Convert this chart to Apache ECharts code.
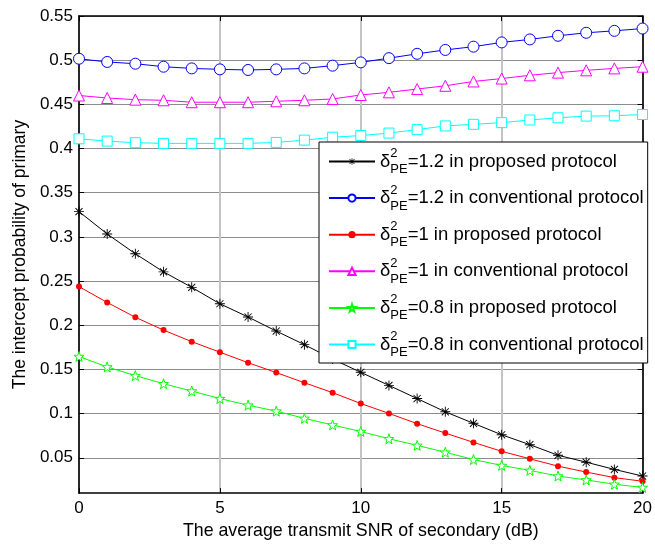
<!DOCTYPE html>
<html>
<head>
<meta charset="utf-8">
<script src="https://cdn.jsdelivr.net/npm/echarts@6/dist/echarts.min.js"></script>
<style>
html,body{margin:0;padding:0;background:#fff;}
#chart{width:655px;height:545px;}
</style>
</head>
<body>
<div id="chart"></div>
<script>
// ---- data ----
var snr = [0,1,2,3,4,5,6,7,8,9,10,11,12,13,14,15,16,17,18,19,20];
var proposed12 = [0.3286,0.3033,0.2809,0.2604,0.2429,0.2243,0.2093,0.1934,0.1780,0.1617,0.1467,0.1319,0.1170,0.1020,0.0890,0.0760,0.0648,0.0528,0.0450,0.0368,0.0293];
var conventional12 = [0.5016,0.4980,0.4960,0.4926,0.4907,0.4896,0.4889,0.4896,0.4907,0.4938,0.4975,0.5023,0.5072,0.5116,0.5153,0.5201,0.5235,0.5276,0.5310,0.5332,0.5358];
var proposed10 = [0.2437,0.2258,0.2090,0.1945,0.1814,0.1695,0.1576,0.1464,0.1349,0.1237,0.1114,0.1002,0.0886,0.0779,0.0674,0.0573,0.0488,0.0405,0.0338,0.0275,0.0234];
var conventional10 = [0.4600,0.4572,0.4553,0.4546,0.4524,0.4524,0.4524,0.4535,0.4546,0.4561,0.4606,0.4636,0.4673,0.4710,0.4759,0.4792,0.4829,0.4859,0.4885,0.4907,0.4926];
var proposed08 = [0.1646,0.1528,0.1430,0.1338,0.1255,0.1170,0.1095,0.1028,0.0946,0.0871,0.0797,0.0715,0.0640,0.0562,0.0480,0.0413,0.0357,0.0293,0.0249,0.0200,0.0164];
var conventional08 = [0.4110,0.4084,0.4066,0.4058,0.4058,0.4058,0.4058,0.4069,0.4095,0.4128,0.4147,0.4175,0.4214,0.4256,0.4274,0.4293,0.4323,0.4348,0.4367,0.4371,0.4385];
var seriesValues = [proposed12, conventional12, proposed10, conventional10, proposed08, conventional08];
var deltaLabels = ['1.2','1.2','1','1','0.8','0.8'];
var protocolLabels = ['proposed','conventional','proposed','conventional','proposed','conventional'];
var xTicks = [0,5,10,15,20];
var yTicks = [0.05,0.1,0.15,0.2,0.25,0.3,0.35,0.4,0.45,0.5,0.55];
var xTitle = 'The average transmit SNR of secondary (dB)';
var yTitle = 'The intercept probability of primary';

// ---- styles ----
var FONT = '"Liberation Sans", Arial, sans-serif';
var colors = ['#000000','#0000ff','#ff0000','#ff00ff','#00ff00','#00ffff'];
var asterisk = 'path://M-10,-0.9L10,-0.9L10,0.9L-10,0.9Z M-0.9,-10L0.9,-10L0.9,10L-0.9,10Z M-7.7,-6.4L-6.4,-7.7L7.7,6.4L6.4,7.7Z M6.4,-7.7L7.7,-6.4L-6.4,7.7L-7.7,6.4Z';
var pentagram = 'path://M0,-10L2.35,-3.24L9.51,-3.09L3.8,1.24L5.88,8.09L0,4L-5.88,8.09L-3.8,1.24L-9.51,-3.09L-2.35,-3.24Z';
var symbols = [asterisk,'circle','circle','triangle',pentagram,'rect'];
var symbolSizes = [10,11,6,11,10,10];
var hollow = [false,true,false,true,true,true];

var names = [];
for (var i = 0; i < 6; i++) {
  names.push('δ2PE=' + deltaLabels[i] + ' in ' + protocolLabels[i] + ' protocol');
}

var series = [];
for (var k = 0; k < 6; k++) {
  var pts = [];
  for (var j = 0; j < snr.length; j++) pts.push([snr[j], seriesValues[k][j]]);
  var itemStyle = hollow[k]
    ? {color: '#ffffff', borderColor: colors[k], borderWidth: 1}
    : {color: colors[k], borderWidth: 0};
  series.push({
    name: names[k],
    type: 'line',
    data: pts,
    symbol: symbols[k],
    symbolSize: symbolSizes[k],
    showAllSymbol: true,
    lineStyle: {color: colors[k], width: 1, type: 'solid'},
    itemStyle: itemStyle,
    emphasis: {disabled: true},
    z: 3
  });
}

var chart = echarts.init(document.getElementById('chart'), null, {renderer: 'canvas'});
var option = {
  animation: false,
  backgroundColor: '#ffffff',
  grid: {left: 79, right: 9, top: 16, bottom: 46, containLabel: false},
  legend: {
    orient: 'vertical',
    left: 319,
    top: 142,
    padding: [5, 4, 4, 9],
    itemGap: 7.6,
    itemWidth: 46,
    itemHeight: 9,
    backgroundColor: '#ffffff',
    borderColor: '#000000',
    borderWidth: 1,
    borderRadius: 0,
    selectedMode: false,
    data: names,
    formatter: function (name) {
      var idx = names.indexOf(name);
      return '{d|δ}{s|2}{p|PE}{t|=' + deltaLabels[idx] + ' in ' + protocolLabels[idx] + ' protocol}';
    },
    textStyle: {
      color: '#000', fontFamily: FONT, fontSize: 18.5, lineHeight: 29,
      rich: {
        d: {fontFamily: FONT, fontSize: 18.5, color: '#000', lineHeight: 29},
        s: {fontFamily: FONT, fontSize: 13, color: '#000', width: 0, lineHeight: 14, verticalAlign: 'top'},
        p: {fontFamily: FONT, fontSize: 13, color: '#000', lineHeight: 14, verticalAlign: 'bottom'},
        t: {fontFamily: FONT, fontSize: 18.5, color: '#000', lineHeight: 29}
      }
    }
  },
  xAxis: [{
    type: 'value', min: 0, max: 20, interval: 5, position: 'bottom',
    name: xTitle, nameLocation: 'middle', nameGap: 25,
    nameTextStyle: {fontFamily: FONT, fontSize: 17.8, color: '#000'},
    axisLine: {show: true, onZero: false, lineStyle: {color: '#000', width: 1.6}},
    axisTick: {show: true, inside: true, length: 5, lineStyle: {color: '#000'}},
    axisLabel: {fontFamily: FONT, fontSize: 17, color: '#000', margin: 7},
    splitLine: {show: true, lineStyle: {color: '#c4c4c4', width: 2}}
  }, {
    type: 'value', min: 0, max: 20, interval: 5, position: 'top',
    axisLine: {show: true, onZero: false, lineStyle: {color: '#000', width: 1.6}},
    axisTick: {show: true, inside: true, length: 5, lineStyle: {color: '#000'}},
    axisLabel: {show: false},
    splitLine: {show: false}
  }],
  yAxis: [{
    type: 'value', min: 0.01, max: 0.55, position: 'left',
    name: yTitle, nameLocation: 'middle', nameGap: 48, nameRotate: 90,
    nameTextStyle: {fontFamily: FONT, fontSize: 17.5, color: '#000'},
    axisLine: {show: true, onZero: false, lineStyle: {color: '#000', width: 1.6}},
    axisTick: {show: true, inside: true, length: 5, lineStyle: {color: '#000'}, customValues: yTicks},
    axisLabel: {fontFamily: FONT, fontSize: 17, color: '#000', margin: 6, customValues: yTicks},
    splitLine: {show: true, lineStyle: {color: '#8c8c8c', width: 1}}
  }, {
    type: 'value', min: 0.01, max: 0.55, position: 'right',
    axisLine: {show: true, onZero: false, lineStyle: {color: '#000', width: 1.6}},
    axisTick: {show: true, inside: true, length: 5, lineStyle: {color: '#000'}, customValues: yTicks},
    axisLabel: {show: false, customValues: yTicks},
    splitLine: {show: false}
  }],
  series: series
};
chart.setOption(option);
</script>
</body>
</html>
